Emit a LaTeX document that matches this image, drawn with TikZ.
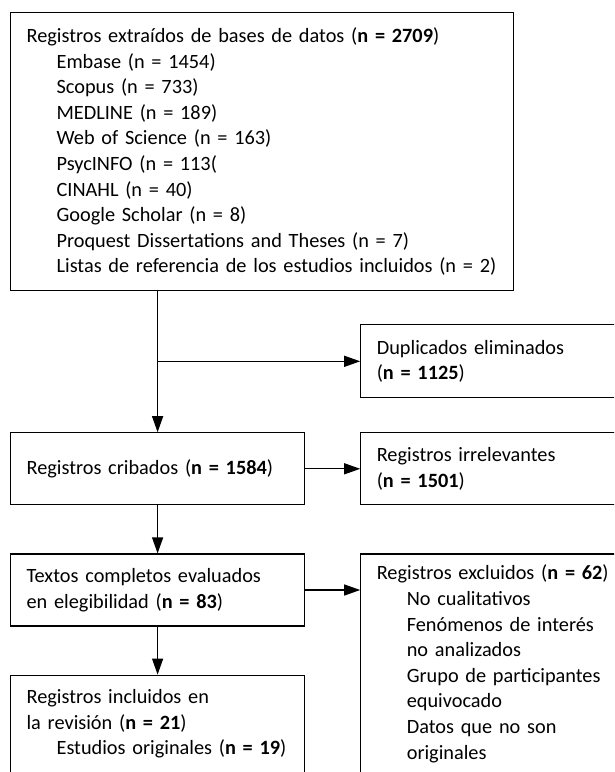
\documentclass[tikz,border=0pt]{standalone}
\usepackage{fontspec}
\setmainfont{Carlito}
\usetikzlibrary{positioning,arrows.meta,calc}

\newcommand{\indline}{\hspace*{30pt}}

\begin{document}
\begin{tikzpicture}[
    x=1pt, y=-1pt,
    box/.style={draw, rectangle, line width=1.2pt, align=left, anchor=north west,
        inner xsep=16pt, inner ysep=10pt, font=\fontsize{20.3pt}{25.6pt}\selectfont},
    arr/.style={-{Triangle[length=16pt, width=11pt]}, line width=1.2pt}
]
\useasboundingbox (0,0) rectangle (614,772);
\clip (0,0) rectangle (614,772);

% left column
\node[box, text width=471pt, minimum height=278pt] (src) at (10,12) {%
    Registros extraídos de bases de datos (\textbf{n = 2709})\\
    \indline Embase (n = 1454)\\
    \indline Scopus (n = 733)\\
    \indline MEDLINE (n = 189)\\
    \indline Web of Science (n = 163)\\
    \indline PsycINFO (n = 113(\\
    \indline CINAHL (n = 40)\\
    \indline Google Scholar (n = 8)\\
    \indline Proquest Dissertations and Theses (n = 7)\\
    \indline Listas de referencia de los estudios incluidos (n = 2)};
\node[box, text width=262pt, minimum height=72pt, below=141pt of src.south west, anchor=north west] (scr)
    {Registros cribados (\textbf{n = 1584})};
\node[box, text width=262pt, minimum height=72pt, below=48pt of scr.south west, anchor=north west] (full)
    {Textos completos evaluados\\ en elegibilidad (\textbf{n = 83})};
\node[box, text width=262pt, minimum height=97pt, below=48pt of full.south west, anchor=north west] (inc)
    {Registros incluidos en\\ la revisión (\textbf{n = 21})\\ \indline Estudios originales (\textbf{n = 19})};

% right column
\node[box, text width=250pt, minimum height=73pt, above right=108pt and 55pt of scr.north east, anchor=north west] (dup)
    {Duplicados eliminados\\ (\textbf{n = 1125})};
\node[box, text width=250pt, minimum height=72pt, right=55pt of scr.north east, anchor=north west] (irr)
    {Registros irrelevantes\\ (\textbf{n = 1501})};
\node[box, text width=250pt, inner ysep=11pt, right=55pt of full.north east, anchor=north west] (exc)
    {Registros excluidos (\textbf{n = 62})\\
    \indline No cualitativos\\
    \indline Fenómenos de interés\\
    \indline no analizados\\
    \indline Grupo de participantes\\
    \indline equivocado\\
    \indline Datos que no son\\
    \indline originales};

% connectors
\draw[arr] (src.south -| scr.north) -- (scr.north);
\draw[arr] (scr.north |- dup.west) -- (dup.west);
\draw[arr] (scr.east) -- (irr.west);
\draw[arr] (scr.south) -- (full.north);
\draw[arr] (full.east) -- (full.east -| exc.west);
\draw[arr] (full.south) -- (inc.north);
\end{tikzpicture}
\end{document}
